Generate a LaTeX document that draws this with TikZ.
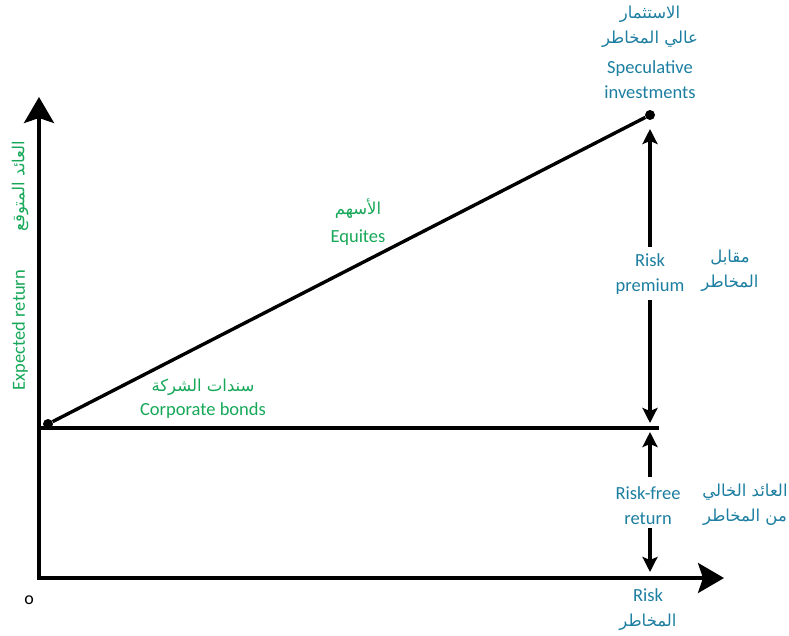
\documentclass[tikz,border=0pt]{standalone}
\usepackage{fontspec}
\setmainfont{Carlito}
\newfontfamily\arabicfont[Script=Arabic]{DejaVu Sans}
\TeXXeTstate=1
\usetikzlibrary{arrows.meta}
\definecolor{labelblue}{RGB}{28,126,160}
\definecolor{labelgreen}{RGB}{22,168,88}
\newcommand{\ar}[1]{{\arabicfont\fontsize{16.5}{19}\selectfont\beginR #1\endR}}
\begin{document}
\begin{tikzpicture}[x=1pt,y=-1pt,
  axis/.style={line width=3.6pt,-{Stealth[length=26pt,width=30pt,inset=5pt]}},
  plain/.style={line width=3.4pt},
  gap/.style={line width=3.2pt,-{Stealth[length=15pt,width=15pt,inset=3pt]}},
  dot/.style={circle,fill=black,inner sep=0pt,minimum size=10pt},
  bluetext/.style={text=labelblue,align=center,font=\fontsize{18.5}{25}\selectfont},
  greentext/.style={text=labelgreen,align=center,font=\fontsize{18.5}{26}\selectfont}]
\useasboundingbox (0,0) rectangle (789,635);

% axes
\coordinate (origin) at (39,578);
\coordinate (ytip) at (39,97);
\coordinate (xtip) at (724,578);
\draw[axis] (39,579.8) -- (ytip);
\draw[axis] (37.2,578) -- (xtip);

% risk-free level and the risk/return line
\coordinate (rfleft) at (39,428);
\coordinate (rfright) at (659,428);
\draw[plain] (rfleft) -- (rfright);
\node[dot] (bonds) at (48,424) {};
\node[dot] (spec) at (650,115) {};
\draw[plain] (bonds) -- (spec);

% risk premium
\coordinate (rptop) at (650,129);
\coordinate (rpbot) at (650,423);
\node[bluetext] (rp) at (650,274) {Risk\\premium};
\draw[gap] (650,247) -- (rptop);
\draw[gap] (650,300) -- (rpbot);
\node[bluetext] (rpar) at (730,271) {\ar{مقابل}\\\ar{المخاطر}};

% risk-free return
\coordinate (rftop) at (650,432);
\coordinate (rfbot) at (650,572);
\node[bluetext] (rf) at (648,506) {Risk-free\\return};
\draw[gap] (650,477) -- (rftop);
\draw[gap] (650,528) -- (rfbot);
\node[bluetext] (rfar) at (745,505) {\ar{العائد الخالي}\\\ar{من المخاطر}};

% top label
\node[bluetext] (specar) at (650,27) {\ar{الاستثمار}\\\ar{عالي المخاطر}};
\node[bluetext] (specen) at (650,80) {Speculative\\investments};

% x-axis label
\node[bluetext] (xlab) at (648,610) {Risk\\\ar{المخاطر}};
\node[font=\fontsize{18}{20}\selectfont] (zero) at (29,600) {o};

% green labels
\node[greentext] (eqar) at (358,209) {\ar{الأسهم}};
\node[greentext] (eqen) at (358,238) {Equites};
\node[greentext] (cbar) at (203,387) {\ar{سندات الشركة}};
\node[greentext] (cben) at (203,411) {Corporate bonds};

% y-axis label
\node[greentext,rotate=90] (yen) at (20,330) {Expected return};
\node[greentext,rotate=90] (yar) at (20,186) {\ar{العائد المتوقع}};
\end{tikzpicture}
\end{document}
